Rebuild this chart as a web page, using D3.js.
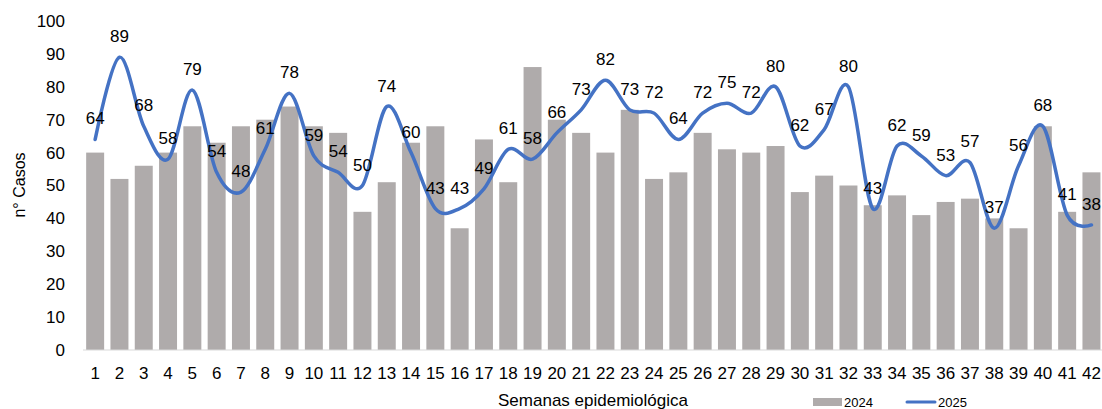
<!DOCTYPE html>
<html>
<head>
<meta charset="utf-8">
<script src="https://cdn.jsdelivr.net/npm/d3@7"></script>
<style>
body { margin: 0; background: #fff; }
svg { font-family: "Liberation Sans", Arial, sans-serif; }
</style>
</head>
<body>
<svg width="1102" height="409"></svg>
<script>
// semanas epidemiologicas
var semanas = d3.range(1, 43);
var casos2024 = [60, 52, 56, 60, 68, 63, 68, 70, 74, 68, 66, 42, 51, 63, 68, 37, 64, 51, 86, 70,
                 66, 60, 73, 52, 54, 66, 61, 60, 62, 48, 53, 50, 44, 47, 41, 45, 46, 40, 37, 68, 42, 54];
var casos2025 = [64, 89, 68, 58, 79, 54, 48, 61, 78, 59, 54, 50, 74, 60, 43, 43, 49, 61, 58, 66,
                 73, 82, 73, 72, 64, 72, 75, 72, 80, 62, 67, 80, 43, 62, 59, 53, 57, 37, 56, 68, 41, 38];
var yTicks = [0, 10, 20, 30, 40, 50, 60, 70, 80, 90, 100];

var svg = d3.select("svg");
var mLeft = 83, mRight = 1103.6, mTop = 21, mBottom = 350;

var x = d3.scaleBand().domain(semanas).range([mLeft, mRight]).paddingInner(0.26).paddingOuter(0.13);
var y = d3.scaleLinear().domain([0, 100]).range([mBottom, mTop]);

// barras 2024
svg.selectAll("rect.bar")
  .data(casos2024)
  .enter()
  .append("rect")
  .attr("class", "bar")
  .attr("x", function(d, i) { return x(semanas[i]); })
  .attr("width", x.bandwidth())
  .attr("y", function(d) { return y(d); })
  .attr("height", function(d) { return mBottom - y(d); })
  .style("fill", "#afabab");

// eje x
svg.append("line")
  .attr("x1", mLeft).attr("x2", mRight)
  .attr("y1", mBottom).attr("y2", mBottom)
  .style("stroke", "#d9d9d9").style("stroke-width", "1px");

svg.selectAll("text.xt")
  .data(semanas)
  .enter()
  .append("text")
  .attr("class", "xt")
  .attr("x", function(d) { return x(d) + x.bandwidth() / 2; })
  .attr("y", 379)
  .attr("text-anchor", "middle")
  .style("font-size", "17px")
  .style("fill", "#000")
  .text(function(d) { return d; });

// eje y
var yAxis = d3.axisLeft(y).tickValues(yTicks).tickSize(0).tickPadding(0);
var gy = svg.append("g").attr("transform", "translate(65,0)").call(yAxis);
gy.select(".domain").remove();
gy.selectAll("text").style("font-size", "17px").style("font-family", "Liberation Sans, Arial, sans-serif").style("fill", "#000");

// linea 2025
var line = d3.line()
  .x(function(d, i) { return x(semanas[i]) + x.bandwidth() / 2; })
  .y(function(d) { return y(d); })
  .curve(d3.curveCardinal.tension(0));

svg.append("path")
  .datum(casos2025)
  .attr("d", line)
  .style("fill", "none")
  .style("stroke", "#4472c4")
  .style("stroke-width", "3.5px")
  .style("stroke-linecap", "round");

svg.selectAll("text.lbl")
  .data(casos2025)
  .enter()
  .append("text")
  .attr("class", "lbl")
  .attr("x", function(d, i) { return x(semanas[i]) + x.bandwidth() / 2; })
  .attr("y", function(d) { return y(d) - 15; })
  .attr("text-anchor", "middle")
  .style("font-size", "17px")
  .style("fill", "#000")
  .text(function(d) { return d; });

// titulos
svg.append("text")
  .attr("transform", "translate(25,185) rotate(-90)")
  .attr("text-anchor", "middle")
  .style("font-size", "16px")
  .text("n° Casos");

svg.append("text")
  .attr("x", 593).attr("y", 406)
  .attr("text-anchor", "middle")
  .style("font-size", "17px")
  .text("Semanas epidemiológica");

// leyenda
svg.append("rect").attr("x", 813).attr("y", 398).attr("width", 29).attr("height", 8).style("fill", "#afabab");
svg.append("text").attr("x", 844).attr("y", 407).style("font-size", "13px").text("2024");
svg.append("line").attr("x1", 907).attr("x2", 935).attr("y1", 402).attr("y2", 402)
  .style("stroke", "#4472c4").style("stroke-width", "3px").style("stroke-linecap", "round");
svg.append("text").attr("x", 938).attr("y", 407).style("font-size", "13px").text("2025");
</script>
</body>
</html>
